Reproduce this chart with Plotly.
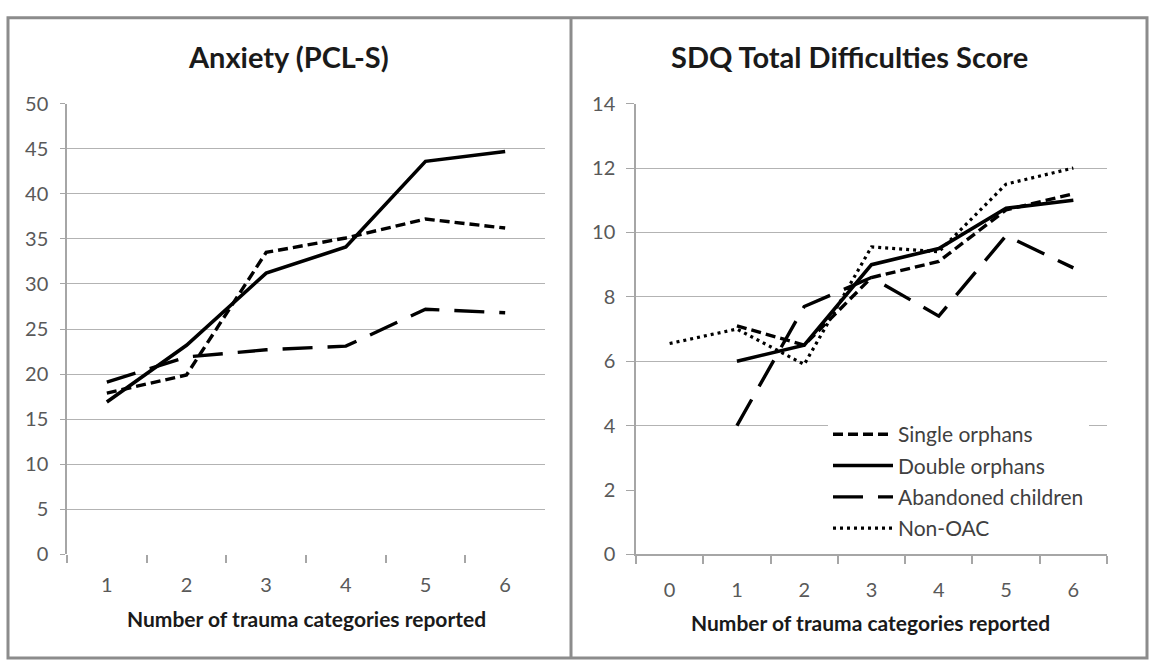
import plotly.graph_objects as go

# ---------------- data ----------------
anx_x = ["1", "2", "3", "4", "5", "6"]
anx_single = [17.9, 19.9, 33.5, 35.1, 37.2, 36.2]
anx_double = [16.9, 23.2, 31.2, 34.1, 43.6, 44.7]
anx_aband = [19.1, 21.9, 22.7, 23.1, 27.2, 26.8]

sdq_x = ["0", "1", "2", "3", "4", "5", "6"]
sdq_single = [None, 7.1, 6.5, 8.6, 9.1, 10.7, 11.2]
sdq_double = [None, 6.0, 6.5, 9.0, 9.5, 10.75, 11.0]
sdq_aband = [None, 4.0, 7.7, 8.6, 7.4, 9.9, 8.9]
sdq_nonoac = [6.55, 7.0, 5.9, 9.55, 9.4, 11.5, 12.0]

series_names = ["Single orphans", "Double orphans", "Abandoned children", "Non-OAC"]
anx_range = [0, 50]
anx_ticks = [0, 5, 10, 15, 20, 25, 30, 35, 40, 45, 50]
anx_grid = [5, 10, 15, 20, 25, 30, 35, 40, 45]
sdq_range = [0, 14]
sdq_ticks = [0, 2, 4, 6, 8, 10, 12, 14]
sdq_grid = [4, 6, 8, 10, 12]

titles = ["Anxiety (PCL-S)", "SDQ Total Difficulties Score"]
xtitle = "Number of trauma categories reported"

# ---------------- style ----------------
W, H = 1150, 671
FONT = "Lato"
GRID = "#b3b3b3"
AX = "#a6a6a6"
TICKC = "#595959"
dashes = ["10px,5px", "solid", "30px,15px", "3px,4px"]
widths = [3.4, 3.6, 3.4, 3.2]


def px_x(p):
    return p / W


def px_y(p):
    return (H - p) / H


fig = go.Figure()

left_series = [anx_single, anx_double, anx_aband]
for i, ys in enumerate(left_series):
    fig.add_trace(go.Scatter(
        x=anx_x, y=ys, mode="lines", name=series_names[i],
        line=dict(color="black", width=widths[i], dash=dashes[i]),
        showlegend=False, xaxis="x", yaxis="y"))

right_series = [sdq_single, sdq_double, sdq_aband, sdq_nonoac]
for i, ys in enumerate(right_series):
    fig.add_trace(go.Scatter(
        x=sdq_x, y=ys, mode="lines", name=series_names[i],
        line=dict(color="black", width=widths[i], dash=dashes[i]),
        legendgroup=f"g{i}", showlegend=True, xaxis="x2", yaxis="y2"))

# empty helper traces so the grid-only overlay axes are drawn
fig.add_trace(go.Scatter(x=[], y=[], xaxis="x", yaxis="y3", showlegend=False, hoverinfo="skip"))
fig.add_trace(go.Scatter(x=[], y=[], xaxis="x2", yaxis="y4", showlegend=False, hoverinfo="skip"))

ydom = [px_y(561.5), px_y(94)]
tickfont = dict(family=FONT, size=20, color=TICKC)

fig.update_layout(
    width=W, height=H,
    margin=dict(l=0, r=0, t=0, b=0),
    paper_bgcolor="white", plot_bgcolor="white",
    font=dict(family=FONT),
    xaxis=dict(domain=[px_x(67), px_x(545)], type="category", categoryorder="array",
               categoryarray=anx_x, range=[-0.5, len(anx_x) - 0.5], anchor="y",
               showgrid=False, showline=False,
               zeroline=False, ticks="outside", tickson="boundaries", ticklen=8,
               tickcolor=AX, tickwidth=1.5, tickfont=tickfont, ticklabelstandoff=17),
    yaxis=dict(domain=ydom, range=anx_range, tickvals=anx_ticks, anchor="x",
               showgrid=False, zeroline=False, showline=True, linecolor=AX, linewidth=1.5,
               ticks="outside", ticklen=5, tickcolor=AX, tickwidth=1, tickfont=tickfont,
               ticklabelstandoff=8),
    yaxis3=dict(domain=ydom, range=anx_range, tickvals=anx_grid, overlaying="y", anchor="x",
                showgrid=True, gridcolor=GRID, gridwidth=1.3, zeroline=False, showline=False,
                showticklabels=False, ticks=""),
    xaxis2=dict(domain=[px_x(636), px_x(1107)], type="category", categoryorder="array",
                categoryarray=sdq_x, range=[-0.5, len(sdq_x) - 0.5], anchor="y2",
                showgrid=False, showline=True,
                linecolor=AX, linewidth=1.5, zeroline=False, ticks="outside",
                tickson="boundaries", ticklen=8, tickcolor=AX, tickwidth=1.5,
                tickfont=tickfont, ticklabelstandoff=17),
    yaxis2=dict(domain=ydom, range=sdq_range, tickvals=sdq_ticks, anchor="x2",
                showgrid=False, zeroline=False, showline=True, linecolor=AX, linewidth=1.5,
                ticks="outside", ticklen=8, tickcolor=AX, tickwidth=1, tickfont=tickfont,
                ticklabelstandoff=7),
    yaxis4=dict(domain=ydom, range=sdq_range, tickvals=sdq_grid, overlaying="y2", anchor="x2",
                showgrid=True, gridcolor=GRID, gridwidth=1.3, zeroline=False, showline=False,
                showticklabels=False, ticks=""),
    legend=dict(x=px_x(828), y=px_y(416), xanchor="left", yanchor="top",
                bgcolor="white", borderwidth=0, tracegroupgap=1, itemwidth=60,
                font=dict(family=FONT, size=21, color="#404040")),
    annotations=[
        dict(text=f"<b>{titles[0]}</b>", x=px_x(288), y=px_y(45), xref="paper", yref="paper",
             showarrow=False, xanchor="center", yanchor="middle",
             font=dict(family=FONT, size=29, color="#1a1a1a")),
        dict(text=f"<b>{titles[1]}</b>", x=px_x(849), y=px_y(45), xref="paper", yref="paper",
             showarrow=False, xanchor="center", yanchor="middle",
             font=dict(family=FONT, size=29, color="#1a1a1a")),
        dict(text=f"<b>{xtitle}</b>", x=px_x(306), y=px_y(628), xref="paper", yref="paper",
             showarrow=False, xanchor="center", yanchor="middle",
             font=dict(family=FONT, size=21, color="#1a1a1a")),
        dict(text=f"<b>{xtitle}</b>", x=px_x(870), y=px_y(632), xref="paper", yref="paper",
             showarrow=False, xanchor="center", yanchor="middle",
             font=dict(family=FONT, size=21, color="#1a1a1a")),
    ],
    shapes=[
        dict(type="rect", xref="paper", yref="paper", x0=px_x(8), x1=px_x(1147),
             y0=px_y(669), y1=px_y(5), line=dict(color="#8c8c8c", width=3)),
        dict(type="line", xref="paper", yref="paper", x0=px_x(571), x1=px_x(571),
             y0=px_y(669), y1=px_y(5), line=dict(color="#8c8c8c", width=3)),
    ],
)

fig.write_html(
    "out.html",
    config={"displayModeBar": False},
    post_script="document.documentElement.style.margin='0';document.body.style.margin='0';"
                "document.body.style.overflow='hidden';",
)
